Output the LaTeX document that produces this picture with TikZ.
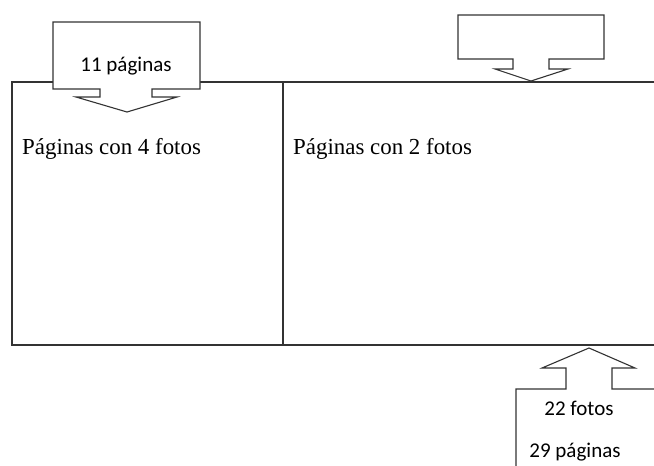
\documentclass[tikz,border=0pt]{standalone}
\usepackage{fontspec}
\setmainfont{Liberation Serif}
\newfontfamily\calibrifont{Carlito}
\begin{document}
\begin{tikzpicture}[
	x=1pt, y=-1pt,
	frame/.style={draw=black!80, line width=1.1pt},
	calloutbox/.style={draw=black!80, line width=1.1pt, fill=white, line join=miter},
	serifnode/.style={anchor=base west, inner sep=0pt, font=\fontsize{22.9}{27}\selectfont},
	sansnode/.style={anchor=base, inner sep=0pt, font=\calibrifont\fontsize{21}{25}\selectfont},
]
\useasboundingbox (0,0) rectangle (654,466);
% main frame
\draw[frame] (660,82) -- (12,82) -- (12,345) -- (660,345);
\draw[frame] (283,82) -- (283,345);
% callouts
\draw[calloutbox] (53,22) -- (200,22) -- (200,89) -- (152,89) -- (152,97) -- (177,97)
	-- (127,112) -- (76,97) -- (100,97) -- (100,89) -- (53,89) -- cycle;
\draw[calloutbox] (458,15) -- (604,15) -- (604,59) -- (549,59) -- (549,69) -- (568,69)
	-- (531,81) -- (495,69) -- (513,69) -- (513,59) -- (458,59) -- cycle;
\draw[calloutbox] (660,389) -- (612,389) -- (612,368) -- (635,368) -- (589,348)
	-- (542,368) -- (566,368) -- (566,389) -- (516,389) -- (516,470);
% texts
\node[sansnode] (once) at (126,71) {11 páginas};
\node[serifnode] (pag4) at (22,154) {Páginas con 4 fotos};
\node[serifnode] (pag2) at (293,154) {Páginas con 2 fotos};
\node[sansnode] (fotos) at (579,415) {22 fotos};
\node[sansnode] (paginas) at (575,457) {29 páginas};
\end{tikzpicture}
\end{document}
